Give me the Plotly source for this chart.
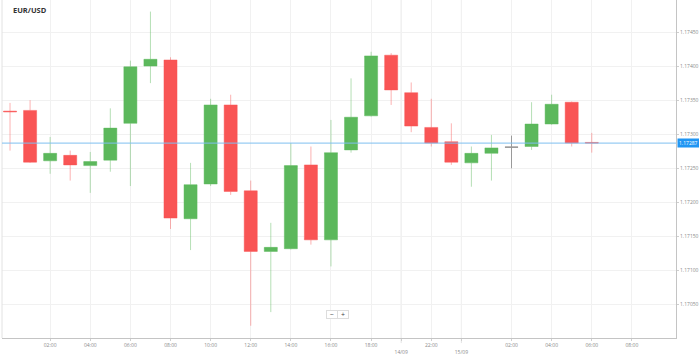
import plotly.graph_objects as go

# ---- data (EUR/USD hourly candles) ----
candle_pos = list(range(30))
opens  = [1.17334, 1.17335, 1.17261, 1.17269, 1.17254, 1.17262, 1.17316, 1.17400, 1.17409, 1.17176,
          1.17227, 1.17343, 1.17217, 1.17128, 1.17132, 1.17255, 1.17145, 1.17277, 1.17327, 1.17416,
          1.17361, 1.17310, 1.17289, 1.17258, 1.17272, 1.17281, 1.17282, 1.17315, 1.17347, 1.17288]
highs  = [1.17346, 1.17350, 1.17296, 1.17276, 1.17274, 1.17338, 1.17408, 1.17480, 1.17413, 1.17258,
          1.17352, 1.17358, 1.17232, 1.17170, 1.17287, 1.17282, 1.17321, 1.17382, 1.17421, 1.17419,
          1.17376, 1.17352, 1.17316, 1.17282, 1.17299, 1.17298, 1.17347, 1.17358, 1.17348, 1.17302]
lows   = [1.17276, 1.17258, 1.17242, 1.17232, 1.17214, 1.17245, 1.17224, 1.17375, 1.17161, 1.17130,
          1.17224, 1.17211, 1.17019, 1.17039, 1.17131, 1.17138, 1.17106, 1.17273, 1.17326, 1.17343,
          1.17303, 1.17282, 1.17255, 1.17223, 1.17232, 1.17250, 1.17277, 1.17314, 1.17282, 1.17273]
closes = [1.17333, 1.17259, 1.17272, 1.17255, 1.17260, 1.17309, 1.17399, 1.17410, 1.17177, 1.17226,
          1.17343, 1.17216, 1.17128, 1.17134, 1.17254, 1.17145, 1.17273, 1.17325, 1.17415, 1.17365,
          1.17312, 1.17287, 1.17259, 1.17272, 1.17280, 1.17281, 1.17315, 1.17344, 1.17287, 1.17287]
flat_candle = 25  # open == close, drawn grey

time_tick_pos = [2, 4, 6, 8, 10, 12, 14, 16, 18, 19.5, 21, 22.5, 25, 27, 29, 31]
time_tick_text = ["02:00", "04:00", "06:00", "08:00", "10:00", "12:00", "14:00", "16:00",
                  "18:00", "<br>14/09", "22:00", "<br>15/09", "02:00", "04:00", "06:00", "08:00"]
day_breaks = [19.5, 22.5]
first_day_label = "13/09"
first_day_pos = -0.5

price_ticks = [1.17050, 1.17100, 1.17150, 1.17200, 1.17250, 1.17300, 1.17350, 1.17400, 1.17450]
last_price = 1.17287
title_text = "EUR/USD"

GREEN = "#5cb85c"
RED = "#f95555"
GREY_TXT = "#8a8a8a"
FONT = "Open Sans"

main_idx = [i for i in candle_pos if i != flat_candle]

fig = go.Figure()
fig.add_trace(go.Candlestick(
    x=[candle_pos[i] for i in main_idx],
    open=[opens[i] for i in main_idx],
    high=[highs[i] for i in main_idx],
    low=[lows[i] for i in main_idx],
    close=[closes[i] for i in main_idx],
    increasing=dict(line=dict(color="rgba(92,184,92,0.45)", width=1), fillcolor=GREEN),
    decreasing=dict(line=dict(color="rgba(249,85,85,0.45)", width=1), fillcolor=RED),
    whiskerwidth=0, showlegend=False, hoverinfo="skip",
))
fig.add_trace(go.Candlestick(
    x=[candle_pos[flat_candle]],
    open=[opens[flat_candle]], high=[highs[flat_candle]],
    low=[lows[flat_candle]], close=[closes[flat_candle]],
    increasing=dict(line=dict(color="#9a9a9a", width=1), fillcolor="#9a9a9a"),
    decreasing=dict(line=dict(color="#9a9a9a", width=1), fillcolor="#9a9a9a"),
    whiskerwidth=0, showlegend=False, hoverinfo="skip",
))

shapes = []
# left border
shapes.append(dict(type="line", xref="paper", yref="paper", x0=0, x1=0, y0=0, y1=1,
                   line=dict(color="#e2e2e2", width=1)))
# day separators
for d in day_breaks:
    shapes.append(dict(type="line", xref="x", yref="paper", x0=d, x1=d, y0=-0.015, y1=1,
                       line=dict(color="#e4e4e4", width=1), layer="below"))
# last price line
shapes.append(dict(type="line", xref="paper", yref="y", x0=0, x1=1, y0=last_price, y1=last_price,
                   line=dict(color="#7fbff0", width=1)))

annotations = [
    dict(text="<b>" + title_text + "</b>", xref="paper", yref="paper", x=0.014, y=0.97,
         xanchor="left", yanchor="middle", showarrow=False,
         font=dict(family=FONT, size=7.5, color="#333333")),
    dict(text="1.17287", xref="paper", yref="y", x=1, y=last_price, xanchor="left", yanchor="middle",
         xshift=1, showarrow=False, bgcolor="#2196f3", borderpad=1,
         font=dict(family=FONT, size=5, color="white")),
    dict(text=first_day_label, xref="x", yref="paper", x=first_day_pos, y=0, yshift=-11,
         xanchor="center", yanchor="top", showarrow=False,
         font=dict(family=FONT, size=5, color=GREY_TXT)),
    dict(text="−", xref="paper", yref="paper", x=0.4896, y=0.056, showarrow=False,
         width=10, height=7, bordercolor="#dddddd", borderwidth=1, bgcolor="white", borderpad=0,
         font=dict(family=FONT, size=7, color="#444444")),
    dict(text="+", xref="paper", yref="paper", x=0.5066, y=0.056, showarrow=False,
         width=10, height=7, bordercolor="#dddddd", borderwidth=1, bgcolor="white", borderpad=0,
         font=dict(family=FONT, size=7, color="#444444")),
]

fig.update_layout(
    width=699, height=357,
    margin=dict(l=2, r=23, t=0, b=19),
    paper_bgcolor="white", plot_bgcolor="white",
    boxgap=0.07,
    shapes=shapes, annotations=annotations,
    font=dict(family=FONT, size=5, color=GREY_TXT),
    xaxis=dict(
        range=[-0.4, 33.2], rangeslider=dict(visible=False),
        tickmode="array", tickvals=time_tick_pos, ticktext=time_tick_text,
        showgrid=True, gridcolor="#f1f1f1", gridwidth=1, zeroline=False,
        showline=True, linecolor="#c4c4c4", linewidth=1,
        ticks="outside", ticklen=2, tickcolor="#cfcfcf",
        tickfont=dict(family=FONT, size=5, color=GREY_TXT),
    ),
    yaxis=dict(
        side="right", range=[1.17001, 1.17497],
        tickmode="array", tickvals=price_ticks, ticktext=["%.5f" % v for v in price_ticks],
        showgrid=True, gridcolor="#f1f1f1", gridwidth=1, zeroline=False,
        showline=True, linecolor="#c4c4c4", linewidth=1,
        ticks="outside", ticklen=2, tickcolor="#cfcfcf",
        tickfont=dict(family=FONT, size=5, color=GREY_TXT),
    ),
)

fig.write_html("out.html", config={"displayModeBar": False},
               post_script="document.body.style.margin='0';")
